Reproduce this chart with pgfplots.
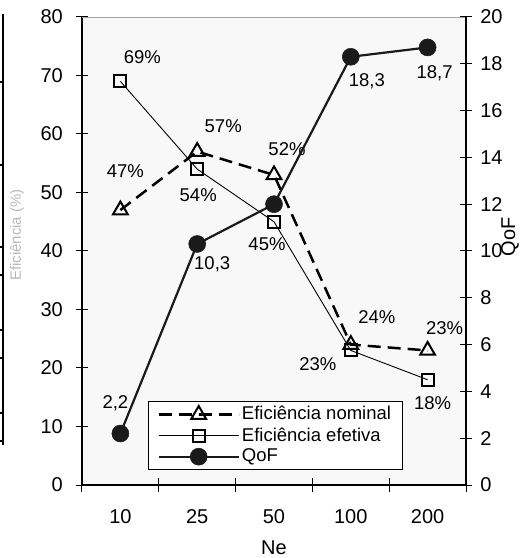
\documentclass[border=0pt]{standalone}
\usepackage{fontspec}
\setmainfont{Liberation Sans}
\usepackage{pgfplots}
\pgfplotsset{compat=1.18}
\definecolor{bgc}{RGB}{248,248,248}
\definecolor{qofc}{RGB}{26,26,26}
\begin{document}
\fontsize{18.5bp}{22bp}\selectfont
\begin{tikzpicture}
\pgfplotsset{
  common/.style={
    scale only axis,
    width=384bp, height=468bp,
    xmin=-0.5, xmax=4.5,
    tick align=center, major tick length=12bp, minor tick length=14bp,
    tick style={black, line width=1bp},
    axis line style={line width=2.4bp},
    /pgf/number format/assume math mode=true,
    tick label style={font=\fontsize{20bp}{24bp}\selectfont},
    label style={font=\fontsize{20bp}{24bp}\selectfont},
  }
}
\begin{axis}[common,
  axis x line*=bottom, axis y line*=left, clip=false,
  axis background/.style={fill=bgc},
  ymin=0, ymax=80, ytick={0,10,...,80},
  xtick={0,1,2,3,4}, xticklabels={10,25,50,100,200},
  major x tick style={draw=none},
  minor xtick={-0.5,0.5,1.5,2.5,3.5,4.5},
  xticklabel shift=12bp,
  yticklabels={},
  xlabel={Ne},
  xlabel style={at={(axis description cs:0.5,0)}, anchor=center, yshift=-63bp},
]
\coordinate (O) at (rel axis cs:0,0);
\draw[gray!70, line width=0.8bp] (rel axis cs:0,1) -- (rel axis cs:1,1);
\addplot[black, line width=0.9bp, mark=square, mark size=6bp,
  mark options={solid, fill=white, line width=2bp}]
  coordinates {(0,69) (1,54) (2,45) (3,23) (4,18)};
\addplot[black, line width=2.5bp, dash pattern=on 13bp off 7bp, mark=triangle, mark size=8.5bp,
  mark options={solid, fill=white, line width=2bp}]
  coordinates {(0,47) (1,57) (2,53) (3,24) (4,23)};
% labels efetiva
\node at (axis cs:0,69) [xshift=22bp, yshift=24bp] {69\%};
\node at (axis cs:1,54) [xshift=1bp, yshift=-26bp] {54\%};
\node at (axis cs:2,45) [xshift=-7bp, yshift=-22bp] {45\%};
\node at (axis cs:3,23) [xshift=-33bp, yshift=-14bp] {23\%};
\node at (axis cs:4,18) [xshift=5bp, yshift=-23bp] {18\%};
% labels nominal
\node at (axis cs:0,47) [xshift=5bp, yshift=39bp] {47\%};
\node at (axis cs:1,57) [xshift=26bp, yshift=25bp] {57\%};
\node at (axis cs:2,53) [xshift=13bp, yshift=26bp] {52\%};
\node at (axis cs:3,24) [xshift=26bp, yshift=28bp] {24\%};
\node at (axis cs:4,23) [xshift=17bp, yshift=22bp] {23\%};
% left tick labels, right edge 19bp left of the axis line
\pgfplotsinvokeforeach{0,10,20,30,40,50,60,70,80}{
  \node[anchor=east, inner sep=0pt, font=\fontsize{20bp}{24bp}\selectfont] at (axis cs:-0.5,#1) [xshift=-19bp] {#1};
}
\end{axis}
\begin{axis}[common,
  axis x line=none, axis y line*=right, clip=false,
  ymin=0, ymax=20, ytick={0,2,...,20},
  yticklabel shift=2bp,
  legend style={at={(rel axis cs:0.172,0.1795)}, anchor=north west,
    draw=black, line width=0.8bp, fill=white, inner xsep=9bp, inner ysep=3bp, row sep=1bp,
    font=\fontsize{18.5bp}{22bp}\selectfont},
  legend cell align=left,
  legend image code/.code={\draw[mark repeat=2, mark phase=2] plot coordinates {(0bp,0bp) (40bp,0bp) (80bp,0bp)};},
]
\addlegendimage{black, line width=2.5bp, dash pattern=on 13bp off 7bp, mark=triangle, mark size=8.5bp,
  mark options={solid, fill=white, line width=2bp}}
\addlegendentry{Eficiência nominal}
\addlegendimage{black, line width=0.9bp, mark=square, mark size=6bp,
  mark options={solid, fill=white, line width=2bp}}
\addlegendentry{Eficiência efetiva}
\addplot[qofc, line width=2.2bp, mark=*, mark size=8.5bp,
  mark options={solid, fill=qofc, line width=0.5bp}]
  coordinates {(0,2.2) (1,10.3) (2,12) (3,18.3) (4,18.7)};
\addlegendentry{QoF}
\node at (axis cs:0,2.2) [xshift=-5bp, yshift=30bp] {2,2};
\node at (axis cs:1,10.3) [xshift=15bp, yshift=-20bp] {10,3};
\node at (axis cs:3,18.3) [xshift=16bp, yshift=-24bp] {18,3};
\node at (axis cs:4,18.7) [xshift=7bp, yshift=-26bp] {18,7};
\node[rotate=90, anchor=center, font=\fontsize{20bp}{24bp}\selectfont] at (axis description cs:1.1146,0.53) {QoF};
\end{axis}
% cropped border and faint label at the left edge
\begin{scope}[shift={(O)}, x=1bp, y=1bp]
\draw[line width=2bp] (-78.5,471) -- (-78.5,40);
\foreach \t in {403,320,238,210,155,127,72,44} \draw[line width=1.2bp] (-82,\t) -- (-78.5,\t);
\node[rotate=90,text=gray!55,font=\fontsize{15bp}{17bp}\selectfont] at (-65,250) {Eficiência (\%)};
\end{scope}
\pgfresetboundingbox
\path[use as bounding box] (O) ++(-82bp,-73bp) rectangle ++(527bp,558bp);
\end{tikzpicture}
\end{document}
